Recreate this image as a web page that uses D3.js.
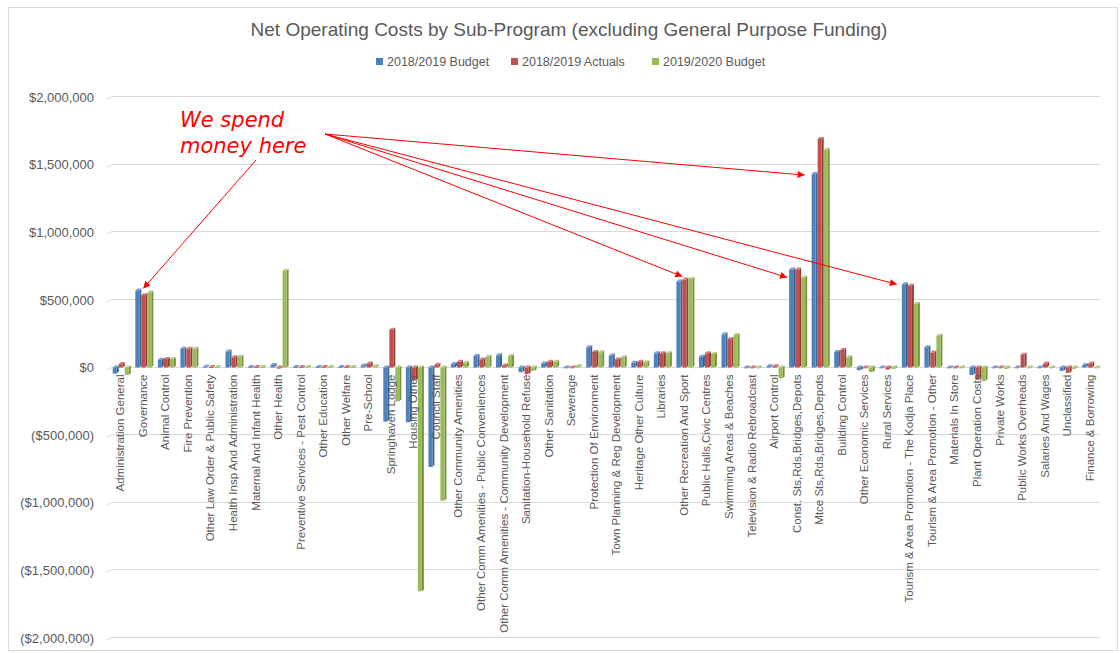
<!DOCTYPE html>
<html>
<head>
<meta charset="utf-8">
<script src="https://cdn.jsdelivr.net/npm/d3@7"></script>
<style>
  html, body { margin: 0; padding: 0; background: #fff; }
  svg { display: block; }
</style>
</head>
<body>
<svg id="chart" width="1120" height="653"></svg>
<script>
const categories = [
  "Administration General", "Governance", "Animal Control", "Fire Prevention",
  "Other Law Order & Public Safety", "Health Insp And Administration",
  "Maternal And Infant Health", "Other Health", "Preventive Services - Pest Control",
  "Other Education", "Other Welfare", "Pre-School", "Springhaven Lodge",
  "Housing Other", "Council Staff", "Other Community Amenities",
  "Other Comm Amenities - Public Conveniences", "Other Comm Amenities - Community Development",
  "Sanitation-Household Refuse", "Other Sanitation", "Sewerage",
  "Protection Of Environment", "Town Planning & Reg Development", "Heritage Other Culture",
  "Libraries", "Other Recreation And Sport", "Public Halls,Civic Centres",
  "Swimming Areas & Beaches", "Television & Radio Rebroadcast", "Airport Control",
  "Const. Sts,Rds,Bridges,Depots", "Mtce Sts,Rds,Bridges,Depots", "Building Control",
  "Other Economic Services", "Rural Services", "Tourism & Area Promotion - The Kodja Place",
  "Tourism & Area Promotion - Other", "Materials In Store", "Plant Operation Costs",
  "Private Works", "Public Works Overheads", "Salaries And Wages", "Unclassified",
  "Finance & Borrowing"
];

const seriesNames = ["2018/2019 Budget", "2018/2019 Actuals", "2019/2020 Budget"];

const budget1819 = [
  -45000, 570000, 58000, 138000, 5000, 118000, 3000, 18000, 3000, 3000, 3000, 15000,
  -400000, -405000, -735000, 25000, 85000, 90000, -35000, 30000, -5000,
  150000, 88000, 35000, 105000, 635000, 80000, 245000, -5000, 10000,
  725000, 1430000, 115000, -20000, -5000, 615000, 150000, -3000, -55000,
  -3000, -3000, -3000, -25000, 18000
];
const actuals1819 = [
  25000, 535000, 63000, 138000, 3000, 75000, 3000, -8000, 3000, 3000, 3000, 30000,
  280000, -95000, 20000, 42000, 60000, 15000, -50000, 42000, 0,
  115000, 60000, 42000, 105000, 650000, 105000, 210000, -5000, 10000,
  725000, 1690000, 130000, -5000, -15000, 605000, 110000, -3000, -90000,
  -3000, 95000, 30000, -40000, 30000
];
const budget1920 = [
  -55000, 555000, 63000, 138000, 4000, 80000, 3000, 715000, 3000, 3000, 3000, 10000,
  -250000, -1655000, -985000, 35000, 80000, 85000, -25000, 42000, 10000,
  112000, 75000, 38000, 105000, 655000, 100000, 240000, -5000, -80000,
  665000, 1610000, 75000, -35000, -10000, 470000, 235000, -3000, -100000,
  -10000, -3000, -3000, -10000, -3000
];

const yTicks = [2000000, 1500000, 1000000, 500000, 0, -500000, -1000000, -1500000, -2000000];

const colors = ["#4f81bd", "#c0504d", "#9bbb59"];
const sideColors = ["#3a6496", "#943b39", "#76923f"];
const topColors = ["#7a9fd0", "#d57c7a", "#b7d083"];

const svg = d3.select("#chart");
const W = 1120, H = 653;

// outer chart border
svg.append("rect").attr("x", 8.5).attr("y", 7.5).attr("width", W - 11).attr("height", H - 10)
  .attr("fill", "#fff").attr("stroke", "#d9d9d9");

const x0 = d3.scaleBand().domain(categories).range([110.5, 1102.5]).paddingInner(0.2).paddingOuter(0.1);
const x1 = d3.scaleBand().domain(seriesNames).range([0, x0.bandwidth()]);
const y = d3.scaleLinear().domain([-2000000, 2000000]).range([638, 97]);

// gridlines (with a small 3D floor slant at the left)
const grid = svg.append("g");
grid.selectAll("line").data(yTicks).join("line")
  .attr("x1", 112).attr("x2", 1100)
  .attr("y1", d => Math.round(y(d)) - 0.5).attr("y2", d => Math.round(y(d)) - 0.5)
  .attr("stroke", "#d9d9d9").attr("stroke-width", 1);
grid.selectAll("path").data(yTicks).join("path")
  .attr("d", d => `M107,${Math.round(y(d)) + 2} L112,${Math.round(y(d)) - 0.5}`)
  .attr("stroke", "#d9d9d9").attr("fill", "none");

// y axis labels
const fmt = v => {
  const s = "$" + d3.format(",")(Math.abs(v));
  return v < 0 ? "(" + s + ")" : s;
};
const yAxis = d3.axisLeft(y).tickValues(yTicks).tickFormat(fmt).tickSize(0).tickPadding(0);
const gy = svg.append("g").attr("transform", "translate(94,0)").call(yAxis);
gy.select(".domain").remove();
gy.selectAll("text").attr("font-family", "Liberation Sans, Arial, sans-serif")
  .attr("font-size", "13px").attr("fill", "#595959");

// bars
const data = categories.map((c, i) => ({ cat: c, vals: [budget1819[i], actuals1819[i], budget1920[i]] }));
const d3off = 2;
const groups = svg.append("g").selectAll("g").data(data).join("g")
  .attr("transform", d => `translate(${x0(d.cat)},0)`);

groups.each(function (d) {
  const g = d3.select(this);
  d.vals.forEach((v, si) => {
    const bx = x1(seriesNames[si]);
    const bw = x1.bandwidth() - d3off;
    const top = Math.min(y(v), y(0));
    const bot = Math.max(y(v), y(0));
    const h = Math.max(bot - top, 0.8);
    g.append("polygon")
      .attr("points", [[bx + bw, top], [bx + bw + d3off, top - d3off], [bx + bw + d3off, top + h - d3off], [bx + bw, top + h]].join(" "))
      .attr("fill", sideColors[si]);
    g.append("polygon")
      .attr("points", [[bx, top], [bx + d3off, top - d3off], [bx + bw + d3off, top - d3off], [bx + bw, top]].join(" "))
      .attr("fill", topColors[si]);
    g.append("rect").attr("x", bx).attr("y", top).attr("width", bw).attr("height", h)
      .attr("fill", colors[si]);
  });
});

// category labels
const xAxis = d3.axisBottom(x0).tickSize(0).tickPadding(0);
const gx = svg.append("g").attr("transform", `translate(-1.5,${y(0) + 7})`).call(xAxis);
gx.select(".domain").remove();
gx.selectAll("text")
  .attr("font-family", "Liberation Sans, Arial, sans-serif")
  .attr("font-size", "11.5px").attr("fill", "#595959")
  .attr("transform", "rotate(-90)")
  .attr("text-anchor", "end")
  .attr("x", 0).attr("y", 0).attr("dy", "0.35em");

// title
svg.append("text").attr("x", 569).attr("y", 36).attr("text-anchor", "middle")
  .attr("font-family", "Liberation Sans, Arial, sans-serif").attr("font-size", "19px")
  .attr("fill", "#595959")
  .text("Net Operating Costs by Sub-Program (excluding General Purpose Funding)");

// legend
const legendX = [376, 511, 652];
const leg = svg.append("g").selectAll("g").data(seriesNames).join("g")
  .attr("transform", (d, i) => `translate(${legendX[i]},62)`);
leg.append("rect").attr("x", 0).attr("y", -4).attr("width", 7).attr("height", 7)
  .attr("fill", (d, i) => colors[i]);
leg.append("text").attr("x", 11).attr("y", 0).attr("dy", "0.35em")
  .attr("font-family", "Liberation Sans, Arial, sans-serif").attr("font-size", "12.5px")
  .attr("fill", "#595959").text(d => d);

// annotation
const ann = svg.append("g");
ann.append("text").attr("x", 180).attr("y", 127)
  .attr("font-family", "DejaVu Sans, sans-serif").attr("font-style", "italic")
  .attr("font-size", "21px").attr("fill", "#ff0000")
  .text("We spend");
ann.append("text").attr("x", 180).attr("y", 153)
  .attr("font-family", "DejaVu Sans, sans-serif").attr("font-style", "italic")
  .attr("font-size", "21px").attr("fill", "#ff0000")
  .text("money here");

svg.append("defs").append("marker").attr("id", "arrow")
  .attr("viewBox", "0 0 10 10").attr("refX", 10).attr("refY", 5)
  .attr("markerWidth", 9).attr("markerHeight", 7).attr("markerUnits", "userSpaceOnUse")
  .attr("orient", "auto")
  .append("path").attr("d", "M0,0 L10,5 L0,10 Z").attr("fill", "#ff0000");

const blueTop = (cat) => {
  const i = categories.indexOf(cat);
  return [x0(cat) + x1(seriesNames[0]), y(budget1819[i])];
};
const arrows = [
  { from: [256, 160], cat: "Governance", dx: 8, dy: -2 },
  { from: [325, 134], cat: "Other Recreation And Sport", dx: 6, dy: -5 },
  { from: [325, 134], cat: "Const. Sts,Rds,Bridges,Depots", dx: -2, dy: 8 },
  { from: [325, 134], cat: "Mtce Sts,Rds,Bridges,Depots", dx: -7, dy: 1 },
  { from: [325, 134], cat: "Tourism & Area Promotion - The Kodja Place", dx: -5, dy: 0 }
];
ann.selectAll("line").data(arrows).join("line")
  .attr("x1", d => d.from[0]).attr("y1", d => d.from[1])
  .attr("x2", d => blueTop(d.cat)[0] + d.dx).attr("y2", d => blueTop(d.cat)[1] + d.dy)
  .attr("stroke", "#ff0000").attr("stroke-width", 1)
  .attr("marker-end", "url(#arrow)");
</script>
</body>
</html>
